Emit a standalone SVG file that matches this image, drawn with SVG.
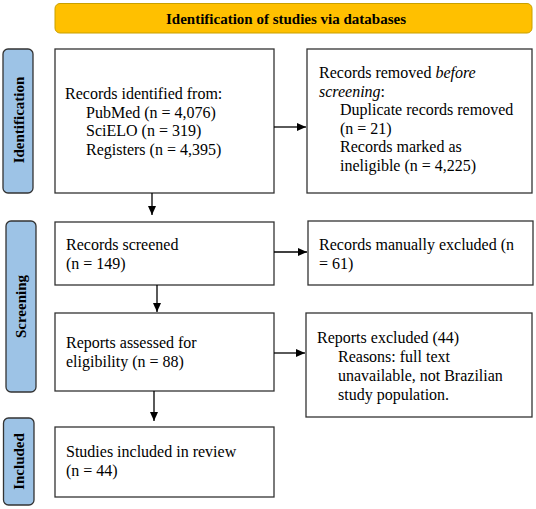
<svg xmlns="http://www.w3.org/2000/svg" width="536" height="509" viewBox="0 0 536 509">
<style>
.box{fill:#fff;stroke:#333;stroke-width:1.3}
.tab{fill:#9DC3E6;stroke:#333;stroke-width:1.3}
.t{font-family:"Liberation Serif","Times New Roman",serif;font-size:16px;fill:#000}
.b{font-family:"Liberation Serif","Times New Roman",serif;font-size:15px;font-weight:bold;fill:#000}
.c{stroke:#000;stroke-width:1.3;fill:none}
</style>
<defs>
<marker id="ah" markerWidth="10" markerHeight="10" refX="9" refY="5" orient="auto" markerUnits="userSpaceOnUse">
<path d="M0,1 L9,5 L0,9 Z" fill="#000"/>
</marker>
</defs>
<rect width="536" height="509" fill="#fff"/>
<g id="banner">
<rect x="55" y="3.5" width="477" height="29.5" rx="5" fill="#FFC000" stroke="#C8A000" stroke-width="1"/>
<text class="b" x="286" y="23.5" text-anchor="middle" font-size="16">Identification of studies via databases</text>
</g>
<g id="tab-identification">
<rect class="tab" x="3" y="49" width="30" height="144" rx="5"/>
<text class="b" transform="translate(24,120) rotate(-90)" text-anchor="middle" font-size="16.5">Identification</text>
</g>
<g id="tab-screening">
<rect class="tab" x="6" y="221" width="30" height="171" rx="5"/>
<text class="b" transform="translate(26,306.5) rotate(-90)" text-anchor="middle">Screening</text>
</g>
<g id="tab-included">
<rect class="tab" x="3.5" y="418" width="30.5" height="87" rx="5"/>
<text class="b" transform="translate(24,461.5) rotate(-90)" text-anchor="middle">Included</text>
</g>
<g id="identified">
<rect class="box" x="55" y="49" width="219" height="144"/>
<text class="t" x="65" y="99">Records identified from:</text>
<text class="t" x="86" y="117.5">PubMed (n = 4,076)</text>
<text class="t" x="86" y="136">SciELO (n = 319)</text>
<text class="t" x="86" y="154.5">Registers (n = 4,395)</text>
</g>
<g id="removed">
<rect class="box" x="307" y="49" width="225" height="144"/>
<text class="t" x="319" y="78">Records removed <tspan font-style="italic">before</tspan></text>
<text class="t" x="319" y="96.5"><tspan font-style="italic">screening</tspan>:</text>
<text class="t" x="340" y="115">Duplicate records removed</text>
<text class="t" x="340" y="133.5">(n = 21)</text>
<text class="t" x="340" y="152">Records marked as</text>
<text class="t" x="340" y="170.5">ineligible (n = 4,225)</text>
</g>
<g id="screened">
<rect class="box" x="55" y="222" width="219" height="63"/>
<text class="t" x="66" y="250">Records screened</text>
<text class="t" x="66" y="268.5">(n = 149)</text>
</g>
<g id="manually-excluded">
<rect class="box" x="308" y="221" width="225" height="64"/>
<text class="t" x="319" y="250">Records manually excluded (n</text>
<text class="t" x="319" y="268.5">= 61)</text>
</g>
<g id="assessed">
<rect class="box" x="55" y="313" width="219" height="78"/>
<text class="t" x="66" y="348">Reports assessed for</text>
<text class="t" x="66" y="366.5">eligibility (n = 88)</text>
</g>
<g id="reports-excluded">
<rect class="box" x="306" y="313" width="226" height="104"/>
<text class="t" x="317" y="343">Reports excluded (44)</text>
<text class="t" x="338" y="362">Reasons: full text</text>
<text class="t" x="338" y="381">unavailable, not Brazilian</text>
<text class="t" x="338" y="400">study population.</text>
</g>
<g id="included">
<rect class="box" x="55" y="427" width="219" height="70"/>
<text class="t" x="66" y="457">Studies included in review</text>
<text class="t" x="66" y="475.5">(n = 44)</text>
</g>
<g id="connectors">
<line class="c" x1="274" y1="127" x2="306" y2="127" marker-end="url(#ah)"/>
<line class="c" x1="152" y1="193" x2="152" y2="215" marker-end="url(#ah)"/>
<line class="c" x1="274" y1="252" x2="307" y2="252" marker-end="url(#ah)"/>
<line class="c" x1="157" y1="285" x2="157" y2="312" marker-end="url(#ah)"/>
<line class="c" x1="274" y1="353" x2="305" y2="353" marker-end="url(#ah)"/>
<line class="c" x1="154" y1="391" x2="154" y2="421" marker-end="url(#ah)"/>
</g>
</svg>
